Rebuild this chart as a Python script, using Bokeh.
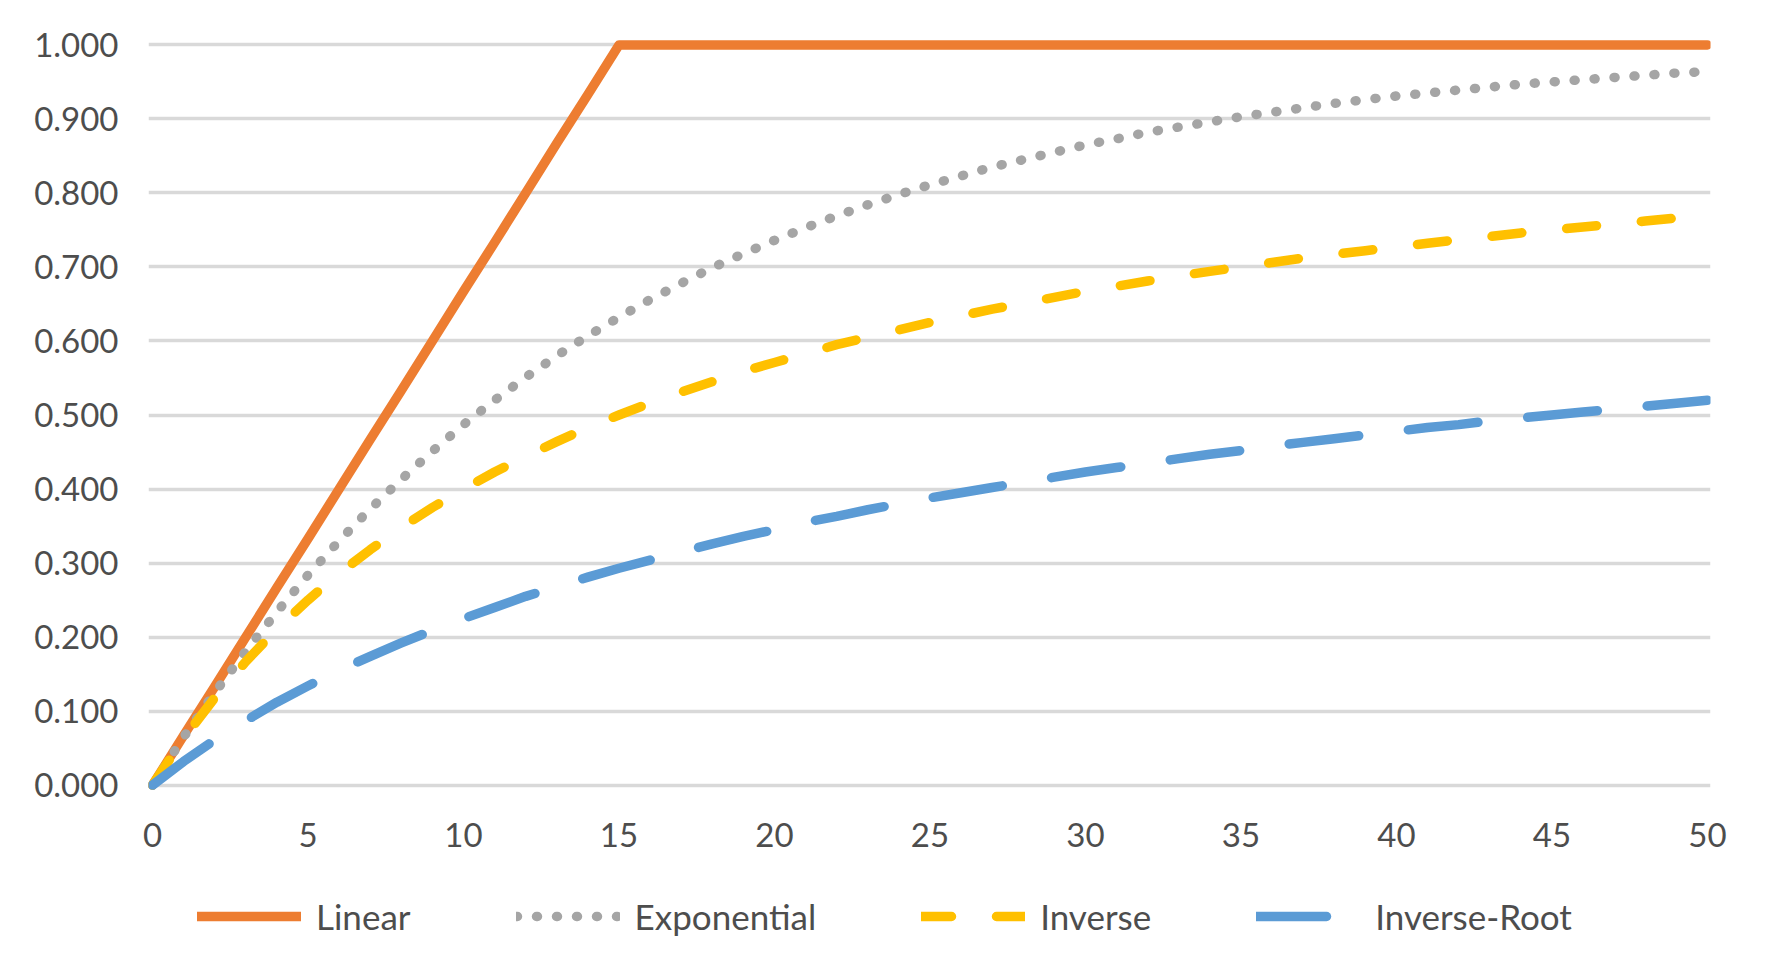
from bokeh.plotting import figure
from bokeh.layouts import column
from bokeh.models import Range1d, FixedTicker, NumeralTickFormatter, Legend, LegendItem, ColumnDataSource
from bokeh.embed import file_html
from bokeh.resources import INLINE

# ---- data ----
x_vals = list(range(0, 51))
linear = [0.0, 0.067, 0.133, 0.2, 0.267, 0.333, 0.4, 0.467, 0.533, 0.6,
          0.667, 0.733, 0.8, 0.867, 0.933, 1.0] + [1.0] * 35
exponential = [0.0, 0.065, 0.125, 0.181, 0.234, 0.284, 0.330, 0.373, 0.413, 0.451,
               0.487, 0.520, 0.551, 0.580, 0.607, 0.632, 0.656, 0.678, 0.699, 0.718,
               0.736, 0.753, 0.769, 0.784, 0.798, 0.811, 0.823, 0.835, 0.845, 0.855,
               0.865, 0.873, 0.882, 0.889, 0.896, 0.903, 0.909, 0.915, 0.921, 0.926,
               0.931, 0.935, 0.939, 0.943, 0.947, 0.950, 0.953, 0.956, 0.959, 0.962,
               0.964]
inverse = [0.0, 0.063, 0.118, 0.167, 0.211, 0.250, 0.286, 0.318, 0.348, 0.375,
           0.400, 0.423, 0.444, 0.464, 0.483, 0.500, 0.516, 0.531, 0.545, 0.559,
           0.571, 0.583, 0.595, 0.605, 0.615, 0.625, 0.634, 0.643, 0.651, 0.659,
           0.667, 0.674, 0.681, 0.688, 0.694, 0.700, 0.706, 0.712, 0.717, 0.722,
           0.727, 0.732, 0.737, 0.741, 0.746, 0.750, 0.754, 0.758, 0.762, 0.766,
           0.769]
inverse_root = [0.0, 0.032, 0.061, 0.087, 0.112, 0.134, 0.155, 0.174, 0.192, 0.209,
                0.225, 0.240, 0.255, 0.268, 0.281, 0.293, 0.304, 0.315, 0.326, 0.336,
                0.345, 0.355, 0.363, 0.372, 0.380, 0.388, 0.395, 0.402, 0.409, 0.416,
                0.423, 0.429, 0.435, 0.441, 0.447, 0.452, 0.458, 0.463, 0.468, 0.473,
                0.478, 0.483, 0.487, 0.492, 0.496, 0.500, 0.504, 0.508, 0.512, 0.516,
                0.520]
series_names = ["Linear", "Exponential", "Inverse", "Inverse-Root"]
x_ticks = [0, 5, 10, 15, 20, 25, 30, 35, 40, 45, 50]
y_ticks = [0.0, 0.1, 0.2, 0.3, 0.4, 0.5, 0.6, 0.7, 0.8, 0.9, 1.0]

FONT = "Lato"
TXT = "#4d4d4d"
COLORS = ["#ED7D31", "#A5A5A5", "#FFC000", "#5B9BD5"]
DASHES = ["solid", "1 19", "30 45", "70 50"]
LW = 9.5

p = figure(frame_width=1562, frame_height=755, output_backend="svg", toolbar_location=None,
           x_range=Range1d(-0.13, 50.1), y_range=Range1d(-0.01, 1.01),
           min_border_left=148, min_border_right=40, min_border_top=37,
           min_border_bottom=75)
p.outline_line_color = None
p.background_fill_color = "white"
p.border_fill_color = "white"

p.xgrid.grid_line_color = None
p.ygrid.grid_line_color = "#D9D9D9"
p.ygrid.grid_line_width = 3.5
p.ygrid.ticker = FixedTicker(ticks=y_ticks)

for ax in (p.xaxis[0], p.yaxis[0]):
    ax.axis_line_color = None
    ax.major_tick_line_color = None
    ax.minor_tick_line_color = None
    ax.major_tick_out = 0
    ax.major_tick_in = 0
    ax.major_label_text_font = FONT
    ax.major_label_text_font_size = "33px"
    ax.major_label_text_color = TXT

p.xaxis[0].ticker = FixedTicker(ticks=x_ticks)
p.yaxis[0].ticker = FixedTicker(ticks=y_ticks)
p.yaxis[0].formatter = NumeralTickFormatter(format="0.000")
p.yaxis[0].major_label_standoff = 30
p.xaxis[0].major_label_standoff = 30

src = ColumnDataSource(dict(x=x_vals, lin=linear, exp=exponential, inv=inverse, iroot=inverse_root))
for col, c, d in zip(["lin", "exp", "inv", "iroot"], COLORS, DASHES):
    p.line("x", col, source=src, line_color=c, line_width=LW,
           line_cap="round", line_join="round", line_dash=d)

# ---- legend strip below the chart ----
lg = figure(width=1750, height=95, output_backend="svg", toolbar_location=None,
            x_axis_location=None, y_axis_location=None,
            x_range=Range1d(0, 1), y_range=Range1d(0, 1),
            min_border_left=0, min_border_right=0, min_border_top=0, min_border_bottom=0)
lg.outline_line_color = None
lg.background_fill_color = "white"
lg.border_fill_color = "white"
lg.grid.grid_line_color = None
lg.grid.visible = False
dummy = []
for c, d in zip(COLORS, DASHES):
    # single off-screen point: only used to carry the legend style
    dummy.append(lg.line(x=[-5.0], y=[-5.0], line_color=c, line_width=LW,
                         line_cap="round", line_join="round", line_dash=d))

legend = Legend(items=[LegendItem(label=n, renderers=[r]) for n, r in zip(series_names, dummy)],
                orientation="horizontal", location=(49, 25),
                glyph_width=104, glyph_height=30, label_standoff=15, spacing=105,
                label_text_font=FONT, label_text_font_size="35px",
                label_text_color=TXT, border_line_color=None,
                background_fill_alpha=0, padding=0, margin=0)
lg.add_layout(legend, "center")

layout = column(p, lg, spacing=0)
open("out.html", "w").write(file_html(layout, INLINE))
